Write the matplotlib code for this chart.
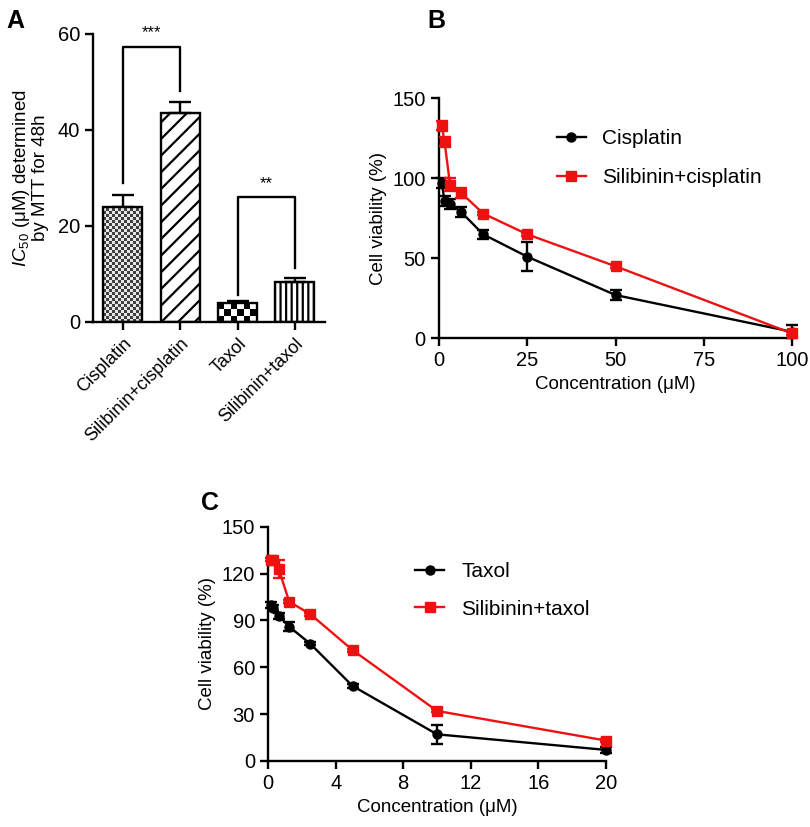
import numpy as np
import matplotlib
matplotlib.use('Agg')
import matplotlib.pyplot as plt

plt.rcParams['font.family'] = ['Liberation Sans', 'DejaVu Sans']
plt.rcParams['mathtext.fontset'] = 'custom'
plt.rcParams['mathtext.rm'] = 'Liberation Sans'
plt.rcParams['mathtext.it'] = 'Liberation Sans:italic'
plt.rcParams['hatch.linewidth'] = 1.6
plt.rcParams['axes.linewidth'] = 1.7

# Panel A: IC50 bars
grupos = ['Cisplatin', 'Silibinin+cisplatin', 'Taxol', 'Silibinin+taxol']
ic50 = [24.0, 43.5, 3.9, 8.3]
ic50_err = [2.5, 2.3, 0.5, 0.9]
# significance brackets: (left bar, right bar, height, left leg end, right leg end, label)
brackets = [(0, 1, 57.3, 29.0, 48.0, '***'), (2, 3, 26.0, 5.6, 11.2, '**')]

# Panel B: cisplatin viability
conc_cis = [0.78, 1.56, 3.125, 6.25, 12.5, 25, 50, 100]
via_cis = [97, 86, 84, 79, 65, 51, 27, 4]
via_cis_err = [3, 3, 3, 3, 3, 9, 3, 4]
via_sil_cis = [133, 123, 96, 91, 78, 65, 45, 3]
via_sil_cis_err = [3, 3, 4, 3, 1, 1, 1, 1]

# Panel C: taxol viability
conc_tax = [0.156, 0.3125, 0.625, 1.25, 2.5, 5, 10, 20]
via_tax = [100, 98, 93, 86, 75, 48, 17, 7]
via_tax_err = [2, 2, 2, 3, 1, 1, 6, 2]
via_sil_tax = [129, 129, 123, 102, 94, 71, 32, 13]
via_sil_tax_err = [1, 1, 6, 1, 1, 1, 1, 1]

ROJO = '#ee1111'
LW = 1.7

fig = plt.figure(figsize=(8.1, 8.27), dpi=100)

# ---------------- A ----------------
axA = fig.add_axes([0.115, 0.611, 0.286, 0.348])
x = np.arange(len(grupos))
ancho = 0.68
hatches = [None, '//', None, '|||']
barras = axA.bar(x, ic50, width=ancho, color='none', edgecolor='black',
                 linewidth=LW, hatch=hatches, zorder=2)
axA.errorbar(x, ic50, yerr=[np.zeros(len(ic50)), ic50_err], fmt='none',
             ecolor='black', elinewidth=LW, capsize=8, capthick=LW, zorder=1)

# checker fills (fine for cisplatin, coarse for taxol)
for i, nx, celda_y in [(0, 13, 0.62), (2, 6, 1.3)]:
    ny = max(int(np.ceil(ic50[i] / celda_y)), 1)
    tablero = (np.indices((ny, nx)).sum(axis=0) % 2).astype(float)
    if i == 0:
        tablero = 0.25 + 0.65 * tablero
    img = axA.imshow(tablero, cmap='gray', vmin=0, vmax=1, aspect='auto',
                     extent=(x[i] - ancho / 2, x[i] + ancho / 2, 0, ny * celda_y),
                     interpolation='nearest', zorder=1.5, origin='lower')
    img.set_clip_path(barras[i])

for izq, der, h, l1, l2, txt in brackets:
    axA.plot([x[izq], x[izq], x[der], x[der]], [l1, h, h, l2], color='black',
             lw=LW, clip_on=False, zorder=3)
    axA.text((x[izq] + x[der]) / 2, h + 1.3, txt, ha='center', va='bottom',
             fontsize=12, clip_on=False)

axA.set_xlim(-0.52, 3.52)
axA.set_ylim(0, 60)
axA.set_yticks([0, 20, 40, 60])
axA.set_xticks(x)
axA.set_xticklabels(grupos, rotation=45, ha='right', rotation_mode='anchor')
axA.tick_params(axis='both', labelsize=14.5, width=LW, length=6)
axA.tick_params(axis='x', labelsize=13)
axA.spines['top'].set_visible(False)
axA.spines['right'].set_visible(False)
axA.set_ylabel('$\\mathit{IC}_{50}$ (μM) determined\nby MTT for 48h', fontsize=13.5,
               linespacing=1.0, labelpad=6)
fig.text(0.008, 0.975, 'A', fontsize=18, fontweight='bold', va='center')

# ---------------- B ----------------
axB = fig.add_axes([0.542, 0.591, 0.436, 0.290])
axB.errorbar(conc_cis, via_cis, yerr=via_cis_err, fmt='none', ecolor='black',
             capsize=4, capthick=LW, elinewidth=LW, clip_on=False, zorder=3)
axB.plot(conc_cis, via_cis, color='black', marker='o', markersize=6.5, lw=LW,
         label='Cisplatin', clip_on=False, zorder=3)
axB.errorbar(conc_cis, via_sil_cis, yerr=via_sil_cis_err, fmt='none', ecolor=ROJO,
             capsize=4, capthick=LW, elinewidth=LW, clip_on=False, zorder=4)
axB.plot(conc_cis, via_sil_cis, color=ROJO, marker='s', markersize=7, lw=LW,
         label='Silibinin+cisplatin', clip_on=False, zorder=4)
axB.set_xlim(0, 100)
axB.set_ylim(0, 150)
axB.set_xticks([0, 25, 50, 75, 100])
axB.set_yticks([0, 50, 100, 150])
axB.set_xlabel('Concentration (μM)', fontsize=13.5)
axB.set_ylabel('Cell viability (%)', fontsize=13.5)
axB.tick_params(axis='both', labelsize=14.5, width=LW, length=6)
axB.spines['top'].set_visible(False)
axB.spines['right'].set_visible(False)
axB.legend(loc='upper left', bbox_to_anchor=(0.28, 0.95), frameon=False,
           fontsize=15, handlelength=1.4, handletextpad=0.8, labelspacing=0.95)
fig.text(0.528, 0.975, 'B', fontsize=18, fontweight='bold', va='center')

# ---------------- C ----------------
axC = fig.add_axes([0.331, 0.080, 0.417, 0.283])
axC.errorbar(conc_tax, via_tax, yerr=via_tax_err, fmt='none', ecolor='black',
             capsize=4, capthick=LW, elinewidth=LW, clip_on=False, zorder=3)
axC.plot(conc_tax, via_tax, color='black', marker='o', markersize=6.5, lw=LW,
         label='Taxol', clip_on=False, zorder=3)
axC.errorbar(conc_tax, via_sil_tax, yerr=via_sil_tax_err, fmt='none', ecolor=ROJO,
             capsize=4, capthick=LW, elinewidth=LW, clip_on=False, zorder=4)
axC.plot(conc_tax, via_sil_tax, color=ROJO, marker='s', markersize=7, lw=LW,
         label='Silibinin+taxol', clip_on=False, zorder=4)
axC.set_xlim(0, 20)
axC.set_ylim(0, 150)
axC.set_xticks([0, 4, 8, 12, 16, 20])
axC.set_yticks([0, 30, 60, 90, 120, 150])
axC.set_xlabel('Concentration (μM)', fontsize=13.5)
axC.set_ylabel('Cell viability (%)', fontsize=13.5)
axC.tick_params(axis='both', labelsize=14.5, width=LW, length=6)
axC.spines['top'].set_visible(False)
axC.spines['right'].set_visible(False)
axC.legend(loc='upper left', bbox_to_anchor=(0.38, 0.93), frameon=False,
           fontsize=15, handlelength=1.4, handletextpad=0.8, labelspacing=0.9)
fig.text(0.248, 0.392, 'C', fontsize=18, fontweight='bold', va='center')

fig.savefig('out.png', dpi=100)
